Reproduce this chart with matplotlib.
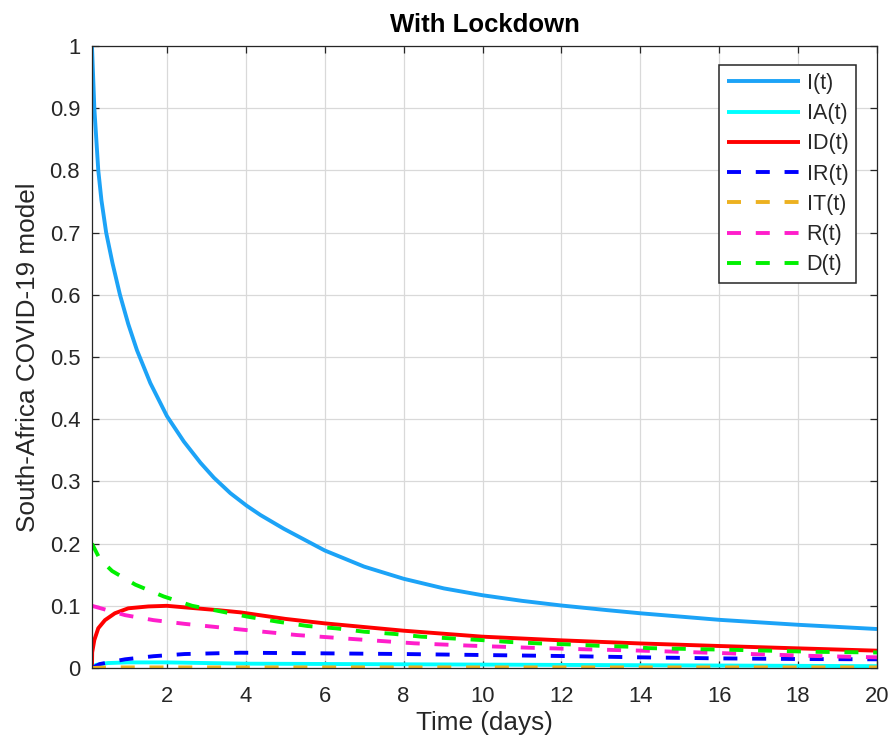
import matplotlib.pyplot as plt

plt.rcParams["font.family"] = ["Liberation Sans", "DejaVu Sans"]

OUTPUT_PNG = "out.png"

TEXT_COLOR = "#262626"

# values
t_i = [0.1, 0.16, 0.26, 0.34, 0.46, 0.62, 0.81, 1.02, 1.24, 1.58, 2.0, 2.43,
       2.85, 3.19, 3.61, 4.02, 4.37, 4.96, 6.0, 7.0, 8.0, 9.02, 10.0, 11.0,
       12.0, 13.17, 14.0, 16.0, 18.0, 20.0]
i_vals = [1.0, 0.9, 0.8, 0.752, 0.7, 0.651, 0.6, 0.553, 0.511, 0.458, 0.405,
          0.364, 0.330, 0.306, 0.281, 0.261, 0.246, 0.224, 0.189, 0.163,
          0.1435, 0.128, 0.117, 0.108, 0.1005, 0.093, 0.088, 0.0775, 0.0695,
          0.0627]

t_ia = [0.1, 0.2, 0.5, 1.0, 2.0, 4.0, 8.0, 12.0, 16.0, 20.0]
ia_vals = [0.0, 0.005, 0.008, 0.009, 0.009, 0.007, 0.006, 0.005, 0.004, 0.003]

t_id = [0.1, 0.105, 0.16, 0.26, 0.43, 0.68, 1.02, 1.53, 2.0, 2.55, 3.3, 3.86,
        5.0, 6.0, 8.0, 10.0, 12.0, 14.0, 16.0, 18.0, 20.0]
id_vals = [0.0, 0.025, 0.045, 0.064, 0.077, 0.088, 0.096, 0.099, 0.1, 0.097,
           0.093, 0.0895, 0.079, 0.0718, 0.06, 0.0504, 0.0445, 0.0395, 0.0354,
           0.0316, 0.0279]

t_ir = [0.1, 0.3, 0.94, 1.66, 2.45, 3.86, 6.0, 8.0, 10.0, 12.0, 14.0, 16.0,
        18.0, 20.0]
ir_vals = [0.0, 0.0064, 0.014, 0.019, 0.0225, 0.0246, 0.0236, 0.0225, 0.0209,
           0.0193, 0.0172, 0.0155, 0.0145, 0.014]

t_it = [0.1, 0.5, 5.0, 10.0, 20.0]
it_vals = [0.0, 0.001, 0.001, 0.001, 0.001]

t_r = [0.1, 0.94, 1.66, 2.45, 3.86, 5.3, 6.85, 8.28, 9.71, 11.15, 12.67,
       14.05, 16.25, 18.45, 20.0]
r_vals = [0.1, 0.085, 0.077, 0.071, 0.062, 0.053, 0.046, 0.0397, 0.0359,
          0.0327, 0.030, 0.0279, 0.0236, 0.0193, 0.0172]

t_d = [0.1, 0.3, 0.61, 1.2, 1.92, 2.64, 4.05, 4.81, 5.57, 6.29, 7.0, 7.78,
       8.45, 9.2, 9.96, 10.7, 11.4, 12.2, 12.9, 13.7, 14.2, 16.5, 18.5, 20.0]
d_vals = [0.2, 0.175, 0.156, 0.134, 0.115, 0.100, 0.0825, 0.0745, 0.0675,
          0.0638, 0.0584, 0.0547, 0.0504, 0.0477, 0.045, 0.0418, 0.0397, 0.038,
          0.0359, 0.0343, 0.032, 0.029, 0.026, 0.025]

x_ticks = [2, 4, 6, 8, 10, 12, 14, 16, 18, 20]
y_ticks = [0.0, 0.1, 0.2, 0.3, 0.4, 0.5, 0.6, 0.7, 0.8, 0.9, 1.0]
y_tick_labels = ["0", "0.1", "0.2", "0.3", "0.4", "0.5", "0.6", "0.7", "0.8",
                 "0.9", "1"]

series = [
    (t_i, i_vals, "I(t)", "#1CA3F7", "-"),
    (t_ia, ia_vals, "IA(t)", "#00FFFF", "-"),
    (t_id, id_vals, "ID(t)", "#FF0000", "-"),
    (t_ir, ir_vals, "IR(t)", "#0000FF", "--"),
    (t_it, it_vals, "IT(t)", "#EDB120", "--"),
    (t_r, r_vals, "R(t)", "#FF1ECB", "--"),
    (t_d, d_vals, "D(t)", "#00F000", "--"),
]


def main():
    fig = plt.figure(figsize=(8.92, 7.42), dpi=100)
    ax = fig.add_axes([0.1031, 0.0997, 0.8801, 0.8383])

    for t, vals, label, color, style in series:
        kwargs = {}
        if style == "--":
            kwargs["dashes"] = (3.6, 3.8)
        ax.plot(t, vals, color=color, linewidth=2.8, label=label,
                solid_capstyle="butt", solid_joinstyle="round", **kwargs)

    ax.set_xlim(0.1, 20)
    ax.set_ylim(0, 1)
    ax.set_xticks(x_ticks)
    ax.set_yticks(y_ticks)
    ax.set_yticklabels(y_tick_labels)

    ax.grid(True, color="#d9d9d9", linewidth=0.9)
    ax.set_axisbelow(True)
    ax.tick_params(direction="in", top=True, right=True, length=5, width=0.9,
                   colors=TEXT_COLOR, labelsize=15.8)
    ax.tick_params(axis="x", pad=13)
    ax.tick_params(axis="y", pad=8.5)
    for spine in ax.spines.values():
        spine.set_color(TEXT_COLOR)
        spine.set_linewidth(0.9)

    ax.set_xlabel("Time (days)", fontsize=18.8, color=TEXT_COLOR, labelpad=3)
    ax.set_ylabel("South-Africa COVID-19 model", fontsize=18.8,
                  color=TEXT_COLOR, labelpad=7)
    ax.set_title("With Lockdown", fontsize=18.5, fontweight="bold", pad=10)

    leg = ax.legend(loc="upper right", bbox_to_anchor=(0.973, 0.969),
                    borderaxespad=0, fontsize=15.5, handlelength=3.4,
                    handletextpad=0.3, labelspacing=0.43, borderpad=0.35,
                    fancybox=False, framealpha=1, edgecolor=TEXT_COLOR)
    leg.get_frame().set_linewidth(1.1)
    for text in leg.get_texts():
        text.set_color(TEXT_COLOR)

    fig.savefig(OUTPUT_PNG, dpi=100)
    plt.close(fig)


if __name__ == "__main__":
    main()
